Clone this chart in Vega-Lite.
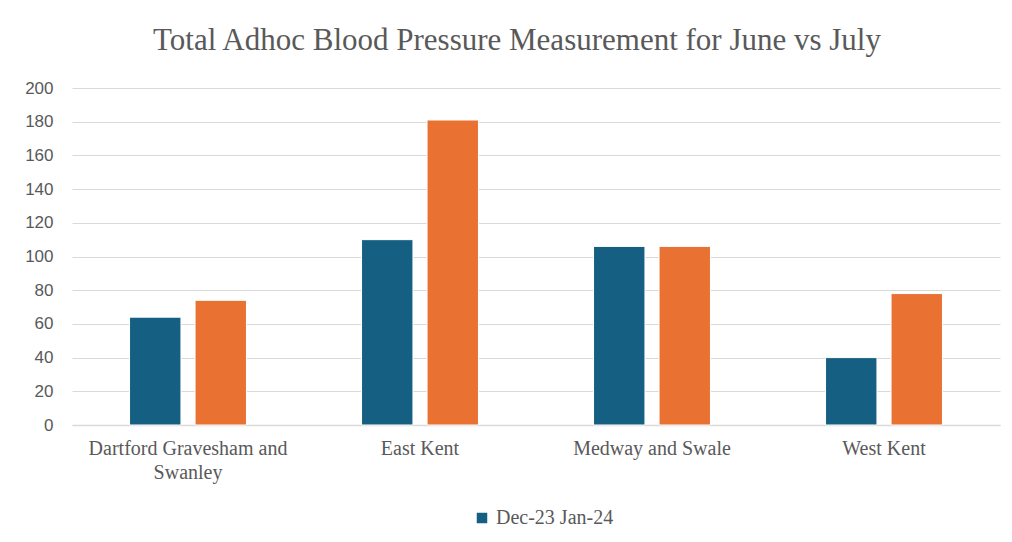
{
  "$schema": "https://vega.github.io/schema/vega-lite/v6.json",
  "width": 928,
  "height": 337,
  "autosize": {"type": "none"},
  "padding": {"left": 72, "top": 88, "right": 12, "bottom": 117},
  "background": "white",
  "title": {
    "text": "Total Adhoc Blood Pressure Measurement for June vs July",
    "font": "'Liberation Serif', 'DejaVu Serif', serif",
    "fontSize": 31,
    "fontWeight": "normal",
    "color": "#595959",
    "anchor": "middle",
    "dx": -19,
    "offset": 22
  },
  "data": {
    "values": [
      {"area": "Dartford Gravesham and Swanley", "series": "Dec-23 Jan-24", "value": 64},
      {"area": "Dartford Gravesham and Swanley", "series": "Series 2", "value": 74},
      {"area": "East Kent", "series": "Dec-23 Jan-24", "value": 110},
      {"area": "East Kent", "series": "Series 2", "value": 181},
      {"area": "Medway and Swale", "series": "Dec-23 Jan-24", "value": 106},
      {"area": "Medway and Swale", "series": "Series 2", "value": 106},
      {"area": "West Kent", "series": "Dec-23 Jan-24", "value": 40},
      {"area": "West Kent", "series": "Series 2", "value": 78}
    ]
  },
  "mark": {"type": "bar", "stroke": "white", "strokeWidth": 1},
  "encoding": {
    "x": {
      "field": "area",
      "type": "nominal",
      "sort": null,
      "title": null,
      "scale": {"paddingInner": 0.496, "paddingOuter": 0.248},
      "axis": {
        "labelAngle": 0,
        "labelFont": "'Liberation Serif', serif",
        "labelFontSize": 20,
        "labelColor": "#595959",
        "labelPadding": 13,
        "labelLineHeight": 24,
        "labelBaseline": "top",
        "labelExpr": "datum.value == 'Dartford Gravesham and Swanley' ? ['Dartford Gravesham and', 'Swanley'] : datum.value",
        "ticks": false,
        "domainColor": "#d9d9d9",
        "domainWidth": 1.5,
        "labelLimit": 300
      }
    },
    "xOffset": {
      "field": "series",
      "type": "nominal",
      "scale": {"paddingInner": 0.215, "paddingOuter": 0}
    },
    "y": {
      "field": "value",
      "type": "quantitative",
      "title": null,
      "scale": {"domain": [0, 200], "nice": false},
      "axis": {
        "values": [0, 20, 40, 60, 80, 100, 120, 140, 160, 180, 200],
        "labelFont": "'Liberation Sans', sans-serif",
        "labelFontSize": 17,
        "labelColor": "#595959",
        "labelPadding": 19,
        "ticks": false,
        "domain": false,
        "gridColor": "#d9d9d9",
        "gridWidth": 1
      }
    },
    "color": {
      "field": "series",
      "type": "nominal",
      "scale": {"domain": ["Dec-23 Jan-24", "Series 2"], "range": ["#156082", "#E97132"]},
      "legend": {
        "values": ["Dec-23 Jan-24"],
        "title": null,
        "orient": "none",
        "legendX": 400,
        "legendY": 420,
        "symbolType": "square",
        "symbolSize": 110,
        "symbolStrokeWidth": 0,
        "labelFont": "'Liberation Serif', serif",
        "labelFontSize": 20,
        "labelColor": "#595959",
        "labelOffset": 4
      }
    }
  },
  "config": {"view": {"stroke": null}}
}
